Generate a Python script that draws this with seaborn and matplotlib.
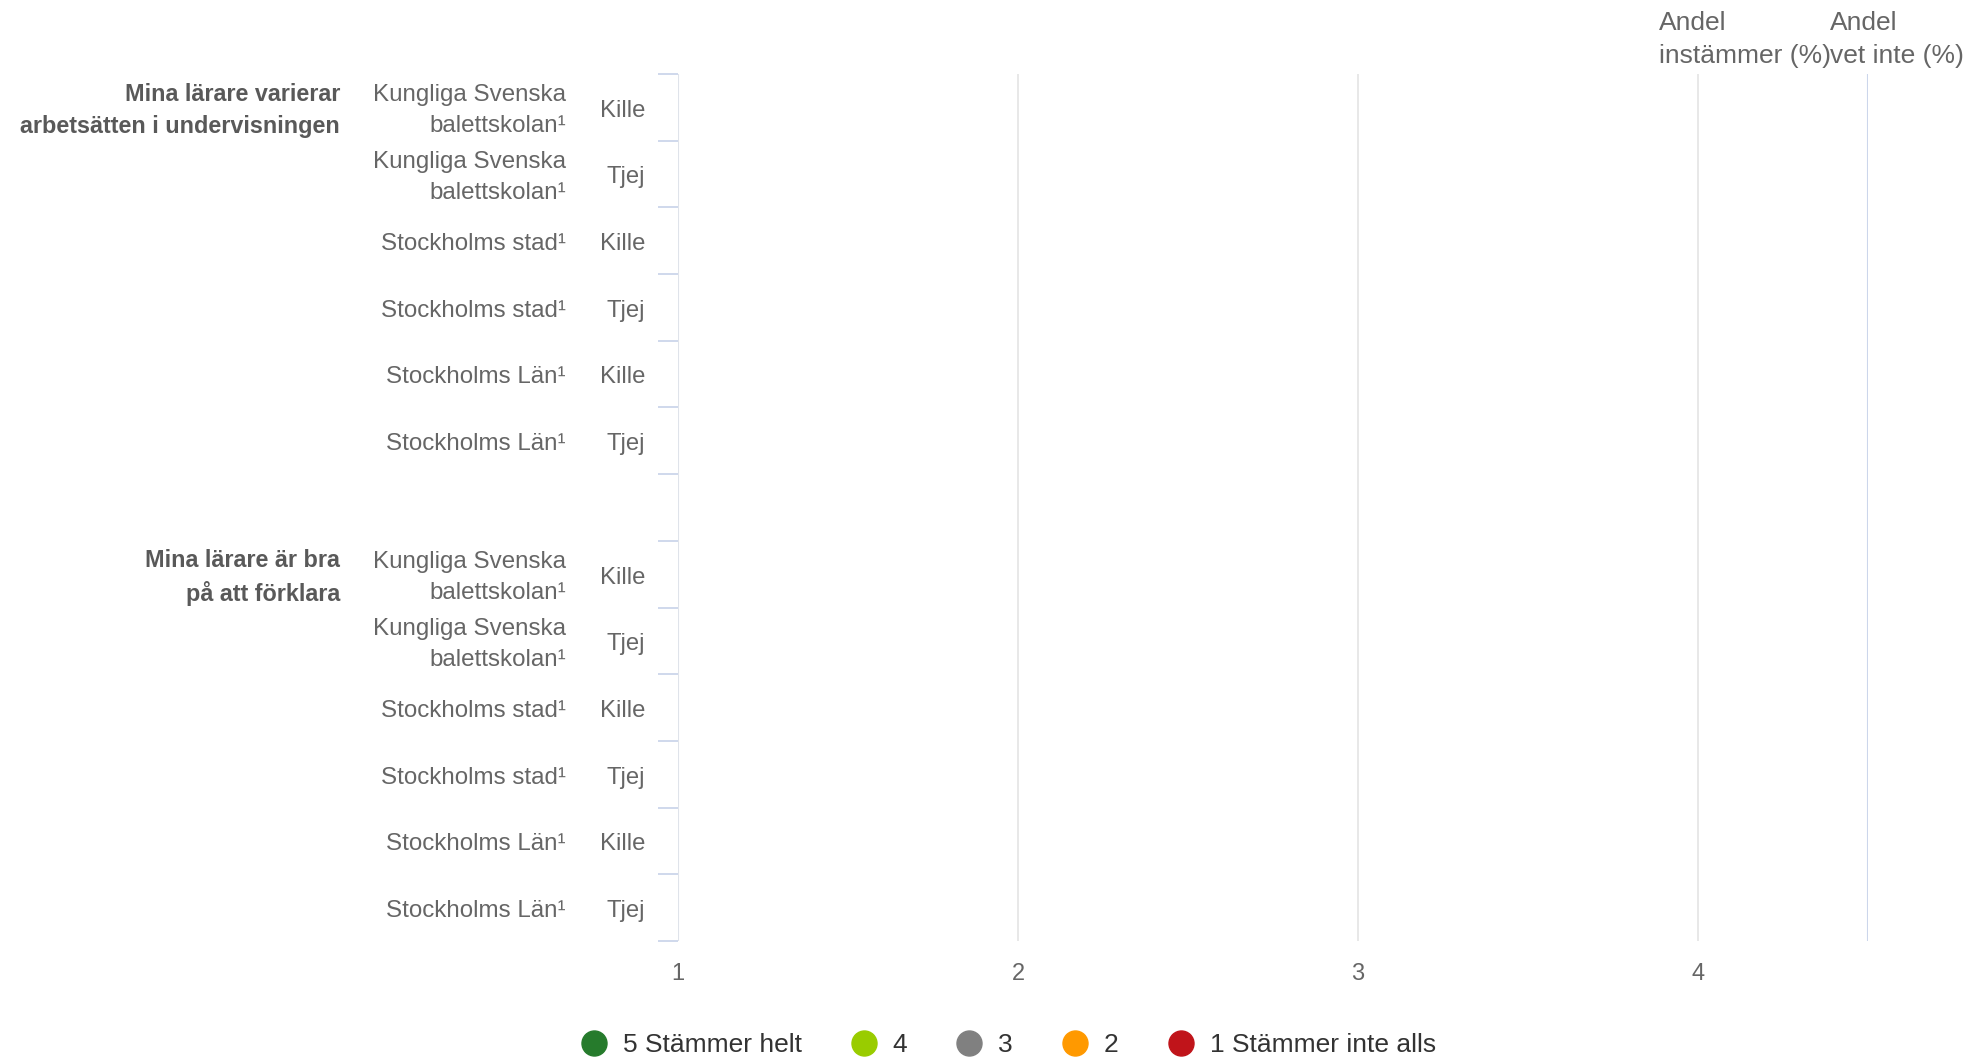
import pandas as pd
import numpy as np
import matplotlib.pyplot as plt
from matplotlib.lines import Line2D
import seaborn as sns

# Frågor (grupper) och rader
questions = ["Mina lärare varierar\narbetsätten i undervisningen",
             "Mina lärare är bra\npå att förklara"]
locations = ["Kungliga Svenska\nbalettskolan¹", "Kungliga Svenska\nbalettskolan¹",
             "Stockholms stad¹", "Stockholms stad¹",
             "Stockholms Län¹", "Stockholms Län¹"]
genders = ["Kille", "Tjej", "Kille", "Tjej", "Kille", "Tjej"]

answers = ["5 Stämmer helt", "4", "3", "2", "1 Stämmer inte alls"]
answer_colors = ["#267b2c", "#99cc00", "#808080", "#ff9900", "#c0141a"]
x_ticks = [1, 2, 3, 4]

# inga värden redovisas i diagrammet (tomma staplar)
share_5 = [None, None, None, None, None, None, None, None, None, None, None, None]
share_4 = [None, None, None, None, None, None, None, None, None, None, None, None]
share_3 = [None, None, None, None, None, None, None, None, None, None, None, None]
share_2 = [None, None, None, None, None, None, None, None, None, None, None, None]
share_1 = [None, None, None, None, None, None, None, None, None, None, None, None]

col_headers = ["Andel\ninstämmer (%)", "Andel\nvet inte (%)"]

sns.set_theme(style="white")
plt.rcParams['font.family'] = ['Liberation Sans', 'DejaVu Sans']

# bygg tabell, en tom rad mellan frågorna
rows = []
for qi, q in enumerate(questions):
    for ri in range(len(genders)):
        slot = qi * (len(genders) + 1) + ri
        rows.append(dict(slot=slot, question=q, location=locations[ri], gender=genders[ri],
                         s5=share_5[qi * 6 + ri], s4=share_4[qi * 6 + ri], s3=share_3[qi * 6 + ri],
                         s2=share_2[qi * 6 + ri], s1=share_1[qi * 6 + ri]))
df = pd.DataFrame(rows)
for c in ['s5', 's4', 's3', 's2', 's1']:
    df[c] = pd.to_numeric(df[c])

fig = plt.figure(figsize=(19.73, 10.59), dpi=100)
ax = fig.add_axes([0.3436, 0.1114, 0.6032, 0.8187])

# staplade staplar: rita kumulativa summor bakifrån
cols = ['s5', 's4', 's3', 's2', 's1']
cum = df[cols].cumsum(axis=1)
for c, color in reversed(list(zip(cols, answer_colors))):
    d = pd.DataFrame({'slot': df['slot'], 'val': cum[c]}).dropna()
    if len(d):
        sns.barplot(data=d, x='val', y='slot', orient='h', native_scale=True,
                    color=color, width=0.7, ax=ax)

ax.set_xlim(1, 4.5)
ax.set_ylim(12.5, -0.5)
ax.set_xlabel("")
ax.set_ylabel("")
for s in ax.spines.values():
    s.set_visible(False)

ax.set_xticks(x_ticks)
ax.set_xticklabels([str(t) for t in x_ticks])
ax.xaxis.grid(True, color='#e6e6e6', linewidth=1.3)
ax.yaxis.grid(False)
ax.axvline(1, color='#dfe3ea', linewidth=1.5, zorder=3)
ax.axvline(4.5, color='#ccd6eb', linewidth=1.5, zorder=3)

# tick-streck mellan raderna, etiketter som text
ax.set_yticks([])
ax.set_yticks(np.arange(-0.5, 13, 1), minor=True)
ax.tick_params(axis='y', which='minor', length=14.4, width=1.3, color='#ccd6eb', left=True)
ax.tick_params(axis='x', length=0, pad=16, labelsize=17, labelcolor='#666666')

ytr = ax.get_yaxis_transform()
dy = 0.05  # etiketterna sitter något under radens mitt
for _, r in df.iterrows():
    ax.text(-0.0277, r['slot'] + dy, r['gender'], transform=ytr, ha='right', va='center',
            fontsize=17.2, color='#666666')
    ax.text(-0.0941, r['slot'] + dy, r['location'], transform=ytr, ha='right', va='center',
            ma='right', fontsize=17.4, color='#666666', linespacing=1.55)
for qi, q in enumerate(questions):
    ax.text(-0.284, qi * 7 + dy, q, transform=ytr, ha='right', va='center', ma='right',
            fontsize=16.8, fontweight='bold', color='#595959', linespacing=1.47)

fig.text(0.8408, 0.9625, col_headers[0], ha='left', va='center', fontsize=19,
         color='#666666', linespacing=1.47)
fig.text(0.9275, 0.9625, col_headers[1], ha='left', va='center', fontsize=19,
         color='#666666', linespacing=1.47)

handles = [Line2D([], [], marker='o', linestyle='', markersize=18,
                  markerfacecolor=c, markeredgecolor=c) for c in answer_colors]
fig.legend(handles, answers, loc='center', bbox_to_anchor=(0.511, 0.013), ncol=5,
           frameon=False, fontsize=19, handlelength=1.0, handletextpad=0.6,
           columnspacing=1.85, labelcolor='#333333')

fig.savefig('out.png', dpi=100)
